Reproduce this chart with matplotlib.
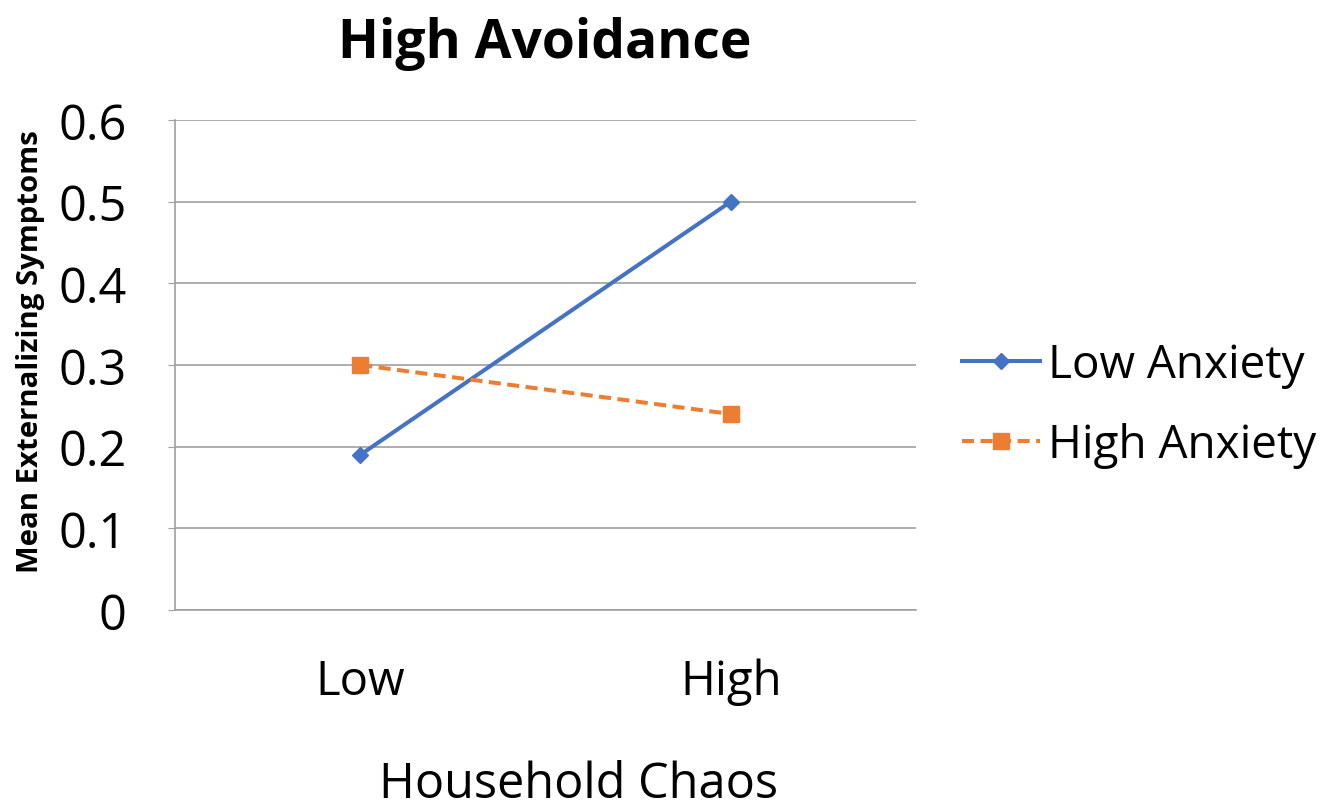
import matplotlib.pyplot as plt

plt.rcParams['font.family'] = ['Open Sans', 'DejaVu Sans']

chaos_levels = ["Low", "High"]
low_anxiety = [0.19, 0.50]
high_anxiety = [0.30, 0.24]

fig = plt.figure(figsize=(13.4, 8.12), dpi=100)
ax = fig.add_axes([0.1306, 0.2475, 0.5530, 0.6035])

x = [0.5, 1.5]
ax.plot(x, low_anxiety, color="#4472C4", linewidth=2.9, marker="D", markersize=8,
        label="Low Anxiety")
ax.plot(x, high_anxiety, color="#ED7D31", linewidth=2.9, linestyle=(0, (3, 1.6)),
        marker="s", markersize=12, label="High Anxiety")

ax.set_xlim(0, 2)
ax.set_ylim(0, 0.6)
ax.set_yticks([0, 0.1, 0.2, 0.3, 0.4, 0.5, 0.6])
ax.set_yticklabels(["0", "0.1", "0.2", "0.3", "0.4", "0.5", "0.6"])
ax.set_xticks(x)
ax.set_xticklabels(chaos_levels)
ax.tick_params(axis="y", labelsize=35, length=5, color="#A0A0A0", pad=30)
ax.tick_params(axis="x", labelsize=34, length=0, pad=34)
ax.grid(axis="y", color="#A0A0A0", linewidth=1.2)
ax.set_axisbelow(True)
for side in ["top", "right"]:
    ax.spines[side].set_visible(False)
for side in ["left", "bottom"]:
    ax.spines[side].set_color("#A0A0A0")
    ax.spines[side].set_linewidth(1.2)

ax.set_xlabel("Household Chaos", fontsize=35, va="baseline")
ax.xaxis.set_label_coords(0.544, -0.382)
ax.set_ylabel("Mean Externalizing Symptoms", fontsize=21.2, fontweight="bold")
ax.yaxis.set_label_coords(-0.176, 0.53)
fig.text(0.4067, 0.928, "High Avoidance", fontsize=38.5, fontweight="bold",
         ha="center", va="baseline")

ax.legend(loc="center left", bbox_to_anchor=(1.007, 0.418), frameon=False, fontsize=33,
          handlelength=1.7, handletextpad=0.17, labelspacing=0.75)

fig.savefig("out.png", dpi=100)
